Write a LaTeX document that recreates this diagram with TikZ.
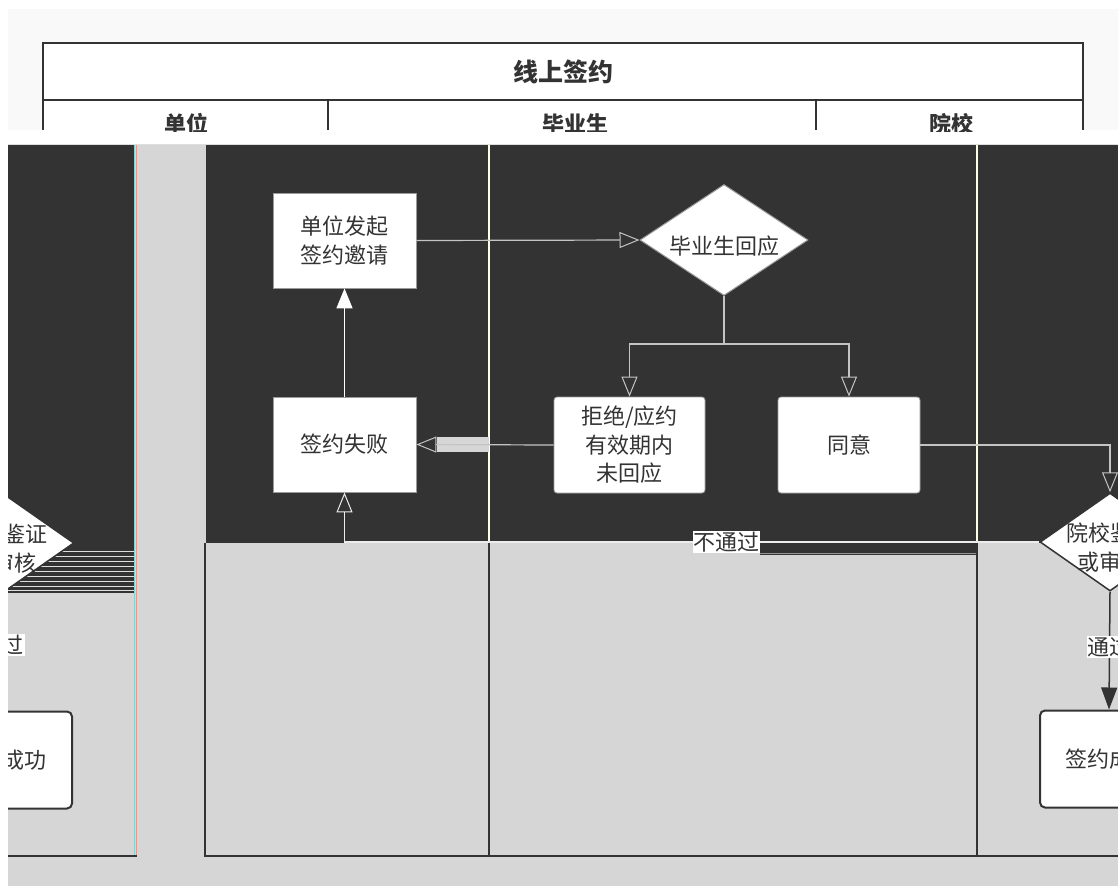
\documentclass[tikz,border=0pt]{standalone}
\usepackage{fontspec}
\setmainfont{Noto Sans CJK SC}
\usetikzlibrary{shapes.geometric,arrows.meta}
\definecolor{dk}{HTML}{333333}
\definecolor{gy}{HTML}{D6D6D6}
\definecolor{lk}{HTML}{C4C4C4}
\definecolor{tb}{HTML}{F9F9F9}
\definecolor{ol}{HTML}{9A9A9A}
\definecolor{yl}{HTML}{F2E24A}
\definecolor{cy}{HTML}{7FD6D6}
\definecolor{sm}{HTML}{E8968A}
\newcommand\myfs{\fontsize{22}{28.5}\selectfont}
\newcommand\zb[1]{\smash{\makebox[0pt]{\raisebox{-13.5pt}{\begin{tabular}[c]{@{}c@{}}#1\end{tabular}}}}}
\tikzset{
  bx/.style={rectangle, fill=white, draw=ol, line width=0.8pt, text=dk, font=\myfs, align=center, inner sep=0pt, minimum width=143pt, minimum height=95pt},
  rbx/.style={bx, rounded corners=3pt},
  okbx/.style={bx, rounded corners=5pt, draw=dk, line width=2pt, minimum width=138pt, minimum height=97pt},
  dia/.style={diamond, fill=white, draw=ol, line width=1pt, text=dk, font=\myfs, inner sep=0pt},
  lnk/.style={draw=lk, line width=1.2pt},
  dlnk/.style={draw=dk, line width=1.5pt},
  oarr/.style={-{Triangle[open,length=20pt,width=16pt,line width=1pt]}},
  warr/.style={-{Triangle[length=20pt,width=16pt,fill=white]}},
  darr/.style={-{Triangle[length=22pt,width=16pt,fill=dk]}},
  lbl/.style={fill=white, text=dk, font=\myfs, inner xsep=0.5pt, inner ysep=1pt},
  hd/.style={text=dk, font=\bfseries\fontsize{22}{26}\selectfont},
}
\begin{document}
\begin{tikzpicture}[x=1pt,y=-1pt]
\useasboundingbox (0,0) rectangle (1118,886);
\fill[white] (0,0) rectangle (1118,886);
\fill[tb] (8,9) rectangle (1118,130);
% title table
\fill[white] (43,43) rectangle (1083,130);
\node[text=dk, font=\bfseries\fontsize{25}{30}\selectfont] (title) at (563,72) {线上签约};
\begin{scope}
  \clip (43,100) rectangle (1083,131);
  \node[hd] (hA) at (186,124) {单位};
  \node[hd] (hB) at (575,124) {毕业生};
  \node[hd] (hC) at (951,124) {院校};
\end{scope}
\draw[dk, line width=2pt] (43,130) -- (43,43) -- (1083,43) -- (1083,130);
\draw[dk, line width=2pt] (43,100) -- (1083,100);
\draw[dk, line width=2pt] (328,100) -- (328,130);
\draw[dk, line width=2pt] (816,100) -- (816,130);

\begin{scope}
\clip (8,144) rectangle (1118,886);
% backgrounds
\fill[gy] (8,144) rectangle (1118,886);
\fill[dk] (8,145) rectangle (135,593);
\foreach \yy in {551,556,561,566,571,576,581,586,590}
  \draw[gy!80!white, line width=1pt] (8,\yy) -- (135,\yy);
\fill[dk] (205,145) rectangle (1118,543);
\fill[dk] (760,543) rectangle (977,555);
\draw[gy!60!dk, line width=1pt] (760,553) -- (977,553);
\draw[gy!80!white, line width=1.5pt] (8,144.5) -- (1118,144.5);
% lane lines
\draw[cy, line width=1pt] (134.5,145) -- (134.5,856);
\draw[sm, line width=1pt] (136,145) -- (136,856);
\draw[yl, line width=1.2pt] (205.5,145) -- (205.5,543);
\draw[dk, line width=2pt] (205,543) -- (205,856);
\draw[white!90!yellow, line width=2pt] (489,145) -- (489,543);
\draw[dk, line width=2pt] (489,543) -- (489,856);
\draw[white!90!yellow, line width=2pt] (977,145) -- (977,543);
\draw[dk, line width=2pt] (977,543) -- (977,856);
\draw[dk, line width=2.5pt] (8,856) -- (137,856);
\draw[dk, line width=2.5pt] (204,856) -- (1118,856);

% nodes
\node[bx] (inv) at (344.5,240.5) {单位发起\\签约邀请};
\node[bx] (fail) at (344.5,444.5) {签约失败};
\node[dia, minimum width=168pt, minimum height=111pt] (resp) at (724,240) {\zb{毕业生回应}};
\node[rbx, minimum width=151pt, minimum height=96pt] (rej) at (629.5,445) {拒绝/应约\\有效期内\\未回应};
\node[rbx, minimum width=142pt, minimum height=96pt] (agr) at (849,445) {同意};
\node[dia, draw=dk, line width=1.5pt, minimum width=140pt, minimum height=98pt] (aud) at (1110,542) {\zb{院校鉴证\\或审核}};
\node[okbx] (ok) at (1109,759) {签约成功};
% wrapped copies on the left edge
\node[dia, draw=dk, line width=1.5pt, minimum width=140pt, minimum height=98pt] (audL) at (4,543) {\zb{院校鉴证\\或审核}};
\node[okbx] (okL) at (3,760) {签约成功};
\node[lbl] (passL) at (2,645) {通过};

% connectors
\draw[lnk, oarr] (inv.east) -- (resp.west);
\draw[lnk, oarr] (resp.south) -- ++(0,48) -| (rej.north);
\draw[lnk, oarr] (resp.south) -- ++(0,48) -| (agr.north);
\fill[gy] (437,437) rectangle (489,452);
\draw[lnk, oarr] (rej.west) -- (fail.east);
\draw[draw=white, line width=1.5pt, warr] (fail.north) -- (inv.south);
\draw[lnk, oarr] (agr.east) -| (aud.north);
\draw[draw=white!85!gray, line width=1.5pt, oarr] (aud.west) -| (fail.south)
  node[lbl, pos=0.225] (nopass) {不通过};
\draw[dlnk, darr] (aud.south) -- (ok.north) node[lbl, pos=0.47] (pass) {通过};
\end{scope}
\end{tikzpicture}
\end{document}
